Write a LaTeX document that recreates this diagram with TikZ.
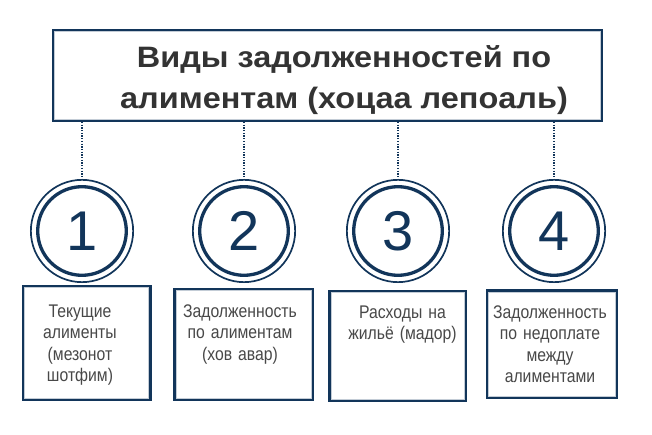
\documentclass[tikz,border=0pt]{standalone}
\usepackage{fontspec}
\setmainfont{Liberation Sans}
\newfontfamily\boxfont[FakeStretch=0.86]{Liberation Sans}
\newfontfamily\headfont[FakeStretch=1.1]{Liberation Sans}
\usepackage{xcolor}
\usepackage{tikz}

\definecolor{navy}{HTML}{12355A}
\definecolor{edgegray}{HTML}{C3CCD6}
\definecolor{ink}{HTML}{333333}
\definecolor{boxink}{HTML}{484848}

\begin{document}
\begin{tikzpicture}[x=1pt, y=-1pt]
\tikzstyle{kind} = [rectangle, draw=navy, line width=2.4pt, fill=white]
\tikzstyle{edge} = [draw=edgegray, line width=1pt]
\tikzstyle{ring} = [circle, draw=navy, line width=1.7pt, minimum size=102.3pt, inner sep=0pt, text=navy, font=\fontsize{56}{56}\selectfont]
\tikzstyle{innerring} = [draw=navy, line width=3.3pt]
\tikzstyle{kindtext} = [text width=130pt, align=center, anchor=north, inner sep=0pt, text=boxink, font=\boxfont\fontsize{18.3}{21.5}\selectfont]
\tikzstyle{link} = [draw=navy, line width=1.3pt, dash pattern=on 1.3pt off 1.4pt]

\useasboundingbox (0,0) rectangle (652,435);

\node (title) [kind, minimum width=548.6pt, minimum height=90.6pt] at (327.5,75.5) {};
\node (heading) [anchor=north, align=center, inner sep=0pt, text=ink, font=\headfont\bfseries\fontsize{29.5}{41}\selectfont] at (344,38.3) {\strut Виды задолженностей по\\алиментам (хоцаа лепоаль)};

\node (c1) [ring] at (82,231) {1};
\node (c2) [ring] at (244,231) {2};
\node (c3) [ring] at (398,231) {3};
\node (c4) [ring] at (554,231) {4};

\node (k1) [kind, minimum width=127.6pt, minimum height=113.6pt] at (86.7,343) {};
\node (k2) [kind, minimum width=138.6pt, minimum height=110.6pt] at (243.8,344.5) {};
\node (k3) [kind, minimum width=136.6pt, minimum height=109.9pt] at (397.8,346.2) {};
\node (k4) [kind, minimum width=130.2pt, minimum height=107.6pt] at (552,344.3) {};

\foreach \k in {title,k1,k2,k3,k4}
  \draw [edge] ([xshift=2.9pt,yshift=-2.9pt]\k.north west) rectangle ([xshift=-2.9pt,yshift=2.9pt]\k.south east);

\foreach \c in {c1,c2,c3,c4} {
  \draw [innerring] (\c.center) circle (44.3pt);
  \draw [link] (title.south -| \c.north) -- (\c.north);
}

\node (t1) [kindtext] at (80,302) {\strut Текущие\\алименты\\(мезонот\\шотфим)};
\node (t2) [kindtext] at (240,302) {\strut Задолженность\\по алиментам\\(хов авар)};
\node (t3) [kindtext] at (402.5,303) {\strut Расходы на\\жильё (мадор)};
\node (t4) [kindtext] at (550,303) {\strut Задолженность\\по недоплате\\между\\алиментами};

\end{tikzpicture}
\end{document}
